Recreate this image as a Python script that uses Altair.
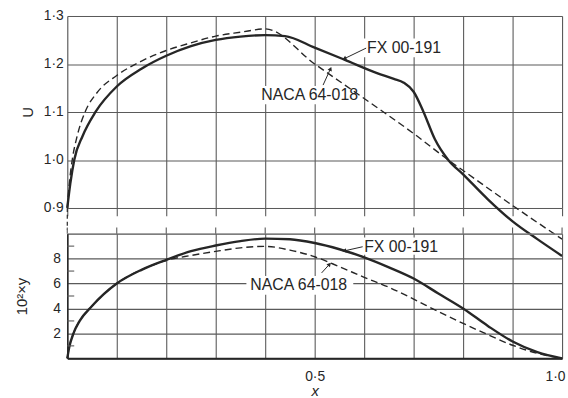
import altair as alt
import pandas as pd

# ---------------- data ----------------
X_TICKS = [0.0, 0.1, 0.2, 0.3, 0.4, 0.5, 0.6, 0.7, 0.8, 0.9, 1.0]
U_TICKS = [0.9, 1.0, 1.1, 1.2, 1.3]
Y_TICKS = [0, 2, 4, 6, 8, 10]
Y_MINOR = [1, 3, 5, 7, 9]

# upper panel: velocity U
fx_u_x = [0, 0.006, 0.014, 0.031, 0.057, 0.1, 0.15, 0.2, 0.25, 0.3, 0.35, 0.4, 0.44,
          0.5, 0.56, 0.626, 0.66, 0.68, 0.7, 0.72, 0.743, 0.77, 0.8, 0.85, 0.9, 0.95, 1.0]
fx_u = [0.9, 0.95, 1.0, 1.05, 1.1, 1.153, 1.19, 1.217, 1.237, 1.25, 1.257, 1.26, 1.258,
        1.234, 1.209, 1.181, 1.169, 1.161, 1.142, 1.1, 1.043, 1.0, 0.97, 0.918, 0.872, 0.835, 0.80]

naca_u_x = [0, 0.004, 0.01, 0.02, 0.036, 0.06, 0.1, 0.15, 0.2, 0.25, 0.3, 0.35, 0.4,
            0.5, 0.6, 0.7, 0.77, 0.8, 0.9, 1.0]
naca_u = [0.9, 0.95, 1.0, 1.05, 1.1, 1.14, 1.176, 1.206, 1.228, 1.244, 1.258, 1.266, 1.273,
          1.2, 1.128, 1.055, 1.0, 0.978, 0.905, 0.835]

# lower panel: thickness 10^2 * y
fx_y_x = [0, 0.004, 0.0125, 0.025, 0.05, 0.1, 0.15, 0.2, 0.25, 0.3, 0.35, 0.4, 0.45, 0.5,
          0.55, 0.6, 0.65, 0.7, 0.75, 0.8, 0.85, 0.9, 0.95, 1.0]
fx_y = [0, 0.9, 2.0, 3.0, 4.2, 6.0, 7.1, 7.9, 8.6, 9.05, 9.4, 9.6, 9.55, 9.25,
        8.75, 8.1, 7.3, 6.4, 5.2, 4.0, 2.6, 1.35, 0.5, 0]

naca_y_x = [0, 0.004, 0.0125, 0.025, 0.05, 0.1, 0.15, 0.2, 0.25, 0.3, 0.35, 0.4, 0.45, 0.5,
            0.55, 0.6, 0.65, 0.7, 0.75, 0.8, 0.85, 0.9, 0.95, 1.0]
naca_y = [0, 0.9, 2.0, 3.0, 4.2, 6.0, 7.1, 7.85, 8.25, 8.58, 8.86, 8.98, 8.68, 8.15,
          7.35, 6.5, 5.7, 4.75, 3.75, 2.8, 1.9, 1.05, 0.4, 0]

# annotations
names = ["FX 00-191", "NACA 64-018"]
top_lab_x = [0.606, 0.392]
top_lab_v = [1.234, 1.135]
top_box_x = [0.598, 0.384]
top_box_x2 = [0.772, 0.596]
top_box_v = [1.253, 1.154]
top_box_v2 = [1.214, 1.116]
top_lead_x = [0.604, 0.517]
top_lead_v = [1.233, 1.156]
top_lead_x2 = [0.56, 0.532]
top_lead_v2 = [1.211, 1.19]
top_arrow_angle = [243, 24]

bot_lab_x = [0.6, 0.37]
bot_lab_v = [8.95, 5.85]
bot_box_x = [0.592, 0.362]
bot_box_x2 = [0.766, 0.578]
bot_box_v = [9.7, 6.6]
bot_box_v2 = [8.3, 5.1]
bot_lead_x = [0.597, 0.514]
bot_lead_v = [8.95, 6.85]
bot_lead_x2 = [0.56, 0.53]
bot_lead_v2 = [8.62, 7.55]
bot_arrow_angle = [257, 42]

# ---------------- styling ----------------
FONT = "Liberation Sans"
GRID = "#5a5a5a"
INK = "#262626"
W = 500

def dot_label(fmt):
    return f"replace(format(datum.value, '{fmt}'), '.', '·')"

x_scale = alt.Scale(domain=[0, 1], nice=False)
u_scale = alt.Scale(domain=[0.9, 1.3], nice=False, zero=False)
y_scale = alt.Scale(domain=[0, 10], nice=False)

top_x_axis = alt.Axis(values=X_TICKS, grid=True, labels=False, ticks=True, tickSize=8,
                      tickColor=GRID, tickWidth=1.1, domain=False, title=None,
                      gridColor=GRID, gridWidth=1.1, gridOpacity=1)
top_y_axis = alt.Axis(values=U_TICKS, grid=True, gridColor=GRID, gridWidth=1.1, gridOpacity=1,
                      labelExpr=dot_label(".1f"), labelFontSize=14, labelPadding=4,
                      labelColor=INK, ticks=False, domain=False, title="U",
                      titleFontSize=15, titleFontWeight="normal", titleColor=INK,
                      titlePadding=8)
bot_x_axis = alt.Axis(values=X_TICKS, grid=True, gridColor=GRID, gridWidth=1.1, gridOpacity=1,
                      labelExpr="datum.value == 0.5 || datum.value == 1 ? "
                                + dot_label(".1f") + " : ''",
                      labelFontSize=14, labelColor=INK, labelPadding=11, labelFlush=True,
                      labelFlushOffset=3,
                      ticks=False, domain=True, domainColor=INK, domainWidth=2,
                      title="x", titleFontStyle="italic", titleFontWeight="normal",
                      titleFontSize=15, titleColor=INK, titlePadding=1)
bot_y_axis = alt.Axis(values=Y_TICKS, grid=True, gridColor=GRID, gridWidth=1.1, gridOpacity=1,
                      labelExpr="datum.value > 0 && datum.value < 10 ? datum.label : ''",
                      labelFontSize=14, labelColor=INK, labelPadding=7,
                      ticks=False, domain=True, domainColor=INK, domainWidth=1.5,
                      title="10²×y", titleFontSize=15, titleFontWeight="normal",
                      titleColor=INK, titlePadding=23)

def TX(f):
    return alt.X(f, scale=x_scale, axis=top_x_axis)

def TY(f):
    return alt.Y(f, scale=u_scale, axis=top_y_axis)

def BX(f):
    return alt.X(f, scale=x_scale, axis=bot_x_axis)

def BY(f):
    return alt.Y(f, scale=y_scale, axis=bot_y_axis)

# ---------------- upper panel ----------------
df_fx_u = pd.DataFrame({"x": fx_u_x, "v": fx_u})
df_naca_u = pd.DataFrame({"x": naca_u_x, "v": naca_u})

top_fx = alt.Chart(df_fx_u).mark_line(color=INK, strokeWidth=2.4, interpolate="monotone",
                                      clip=False).encode(x=TX("x:Q"), y=TY("v:Q"))
top_naca = alt.Chart(df_naca_u).mark_line(color=INK, strokeWidth=1.4, strokeDash=[7, 4],
                                          interpolate="monotone", clip=False).encode(
    x=TX("x:Q"), y=TY("v:Q"))

df_top_ann = pd.DataFrame({
    "name": names, "x": top_lab_x, "v": top_lab_v,
    "bx": top_box_x, "bx2": top_box_x2, "bv": top_box_v, "bv2": top_box_v2,
    "lx": top_lead_x, "lv": top_lead_v, "lx2": top_lead_x2, "lv2": top_lead_v2,
    "ang": top_arrow_angle,
})
top_box = alt.Chart(df_top_ann).mark_rect(color="white").encode(
    x=TX("bx:Q"), x2="bx2:Q", y=TY("bv:Q"), y2="bv2:Q")
top_text = alt.Chart(df_top_ann).mark_text(font=FONT, fontSize=16, align="left",
                                           baseline="middle", color=INK).encode(
    x=TX("x:Q"), y=TY("v:Q"), text="name:N")
top_lead = alt.Chart(df_top_ann).mark_rule(color=INK, strokeWidth=1).encode(
    x=TX("lx:Q"), x2="lx2:Q", y=TY("lv:Q"), y2="lv2:Q")
top_arrow = alt.Chart(df_top_ann).mark_point(shape="triangle-up", filled=True, color=INK,
                                             size=22, opacity=1).encode(
    x=TX("lx2:Q"), y=TY("lv2:Q"), angle=alt.Angle("ang:Q", scale=None))

# dashed continuation of the left axis between the panels
df_conn = pd.DataFrame({"x": [0.0], "v": [0.9], "v2": [0.855]})
top_conn = alt.Chart(df_conn).mark_rule(color=INK, strokeWidth=1.2, strokeDash=[4, 3],
                                        clip=False).encode(
    x=TX("x:Q"), y=TY("v:Q"), y2="v2:Q")

top = alt.layer(top_box, top_fx, top_naca, top_text, top_lead, top_arrow, top_conn).properties(
    width=W, height=194)

# ---------------- lower panel ----------------
df_fx_y = pd.DataFrame({"x": fx_y_x, "v": fx_y})
df_naca_y = pd.DataFrame({"x": naca_y_x, "v": naca_y})

bot_fx = alt.Chart(df_fx_y).mark_line(color=INK, strokeWidth=2.4, interpolate="monotone",
                                      clip=False).encode(x=BX("x:Q"), y=BY("v:Q"))
bot_naca = alt.Chart(df_naca_y).mark_line(color=INK, strokeWidth=1.4, strokeDash=[7, 4],
                                          interpolate="monotone", clip=False).encode(
    x=BX("x:Q"), y=BY("v:Q"))

df_bot_ann = pd.DataFrame({
    "name": names, "x": bot_lab_x, "v": bot_lab_v,
    "bx": bot_box_x, "bx2": bot_box_x2, "bv": bot_box_v, "bv2": bot_box_v2,
    "lx": bot_lead_x, "lv": bot_lead_v, "lx2": bot_lead_x2, "lv2": bot_lead_v2,
    "ang": bot_arrow_angle,
})
bot_box = alt.Chart(df_bot_ann).mark_rect(color="white").encode(
    x=BX("bx:Q"), x2="bx2:Q", y=BY("bv:Q"), y2="bv2:Q")
bot_text = alt.Chart(df_bot_ann).mark_text(font=FONT, fontSize=16, align="left",
                                           baseline="middle", color=INK).encode(
    x=BX("x:Q"), y=BY("v:Q"), text="name:N")
bot_lead = alt.Chart(df_bot_ann).mark_rule(color=INK, strokeWidth=1).encode(
    x=BX("lx:Q"), x2="lx2:Q", y=BY("lv:Q"), y2="lv2:Q")
bot_arrow = alt.Chart(df_bot_ann).mark_point(shape="triangle-up", filled=True, color=INK,
                                             size=22, opacity=1).encode(
    x=BX("lx2:Q"), y=BY("lv2:Q"), angle=alt.Angle("ang:Q", scale=None))

# short grid stubs above the lower frame, and inner minor ticks on the left
df_stub = pd.DataFrame({"x": X_TICKS, "v": [10] * len(X_TICKS), "v2": [10.5] * len(X_TICKS)})
bot_stub = alt.Chart(df_stub).mark_rule(color=GRID, strokeWidth=1.1, clip=False).encode(
    x=BX("x:Q"), y=BY("v:Q"), y2="v2:Q")
df_minor = pd.DataFrame({"x": [0.0] * len(Y_MINOR), "x2": [0.014] * len(Y_MINOR), "v": Y_MINOR})
bot_minor = alt.Chart(df_minor).mark_rule(color=GRID, strokeWidth=1.1).encode(
    x=BX("x:Q"), x2="x2:Q", y=BY("v:Q"))

bottom = alt.layer(bot_box, bot_fx, bot_naca, bot_text, bot_lead, bot_arrow, bot_stub,
                   bot_minor).properties(width=W, height=126)

chart = alt.vconcat(top, bottom, spacing=26, bounds="flush").properties(
    padding={"left": 14, "top": 6, "right": 0, "bottom": 0},
    background="white",
).configure_view(stroke=None).configure(font=FONT)

chart.save("out.html", embed_options={"renderer": "svg", "actions": False})
